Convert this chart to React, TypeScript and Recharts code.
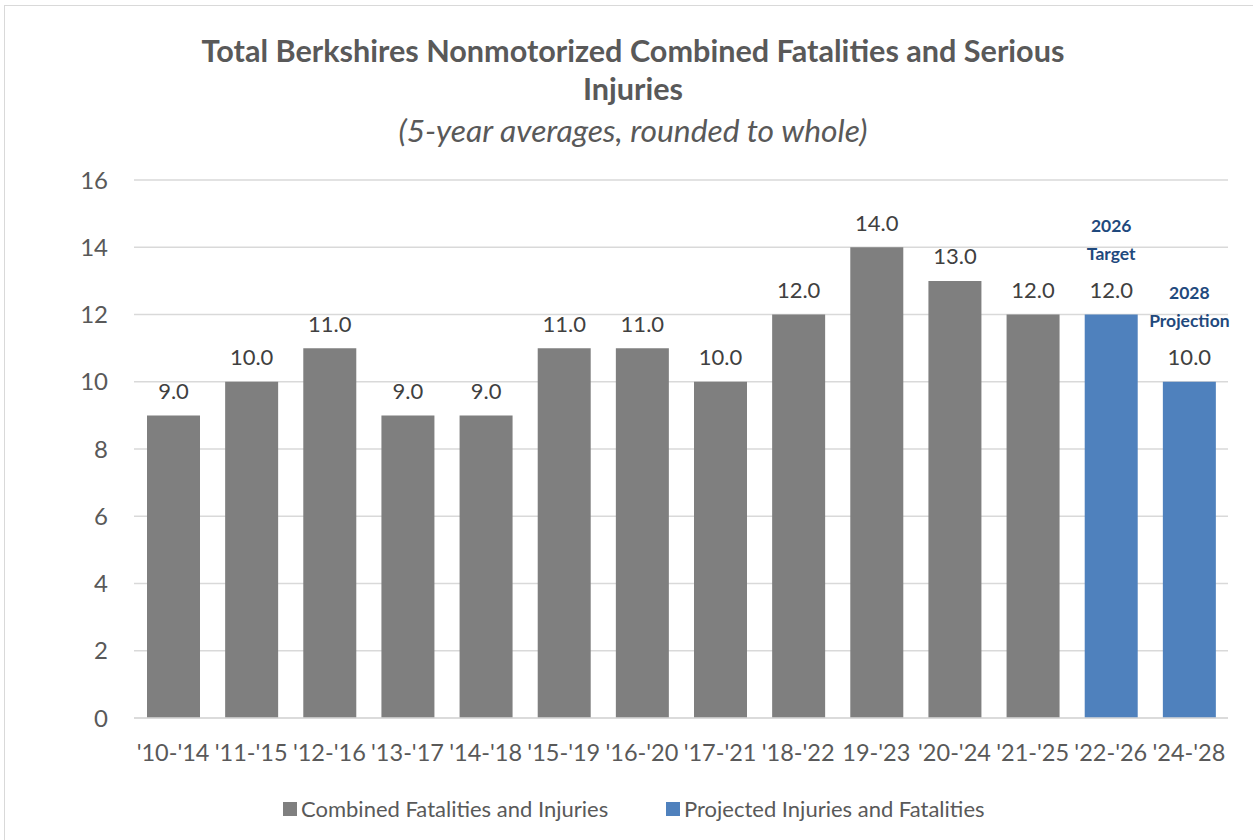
import React from "react";
import { BarChart, Bar, XAxis, YAxis, CartesianGrid, LabelList } from "recharts";

const categories = ["'10-'14", "'11-'15", "'12-'16", "'13-'17", "'14-'18", "'15-'19", "'16-'20", "'17-'21", "'18-'22", "19-'23", "'20-'24", "'21-'25", "'22-'26", "'24-'28"];
const combinedValues: (number | null)[] = [9, 10, 11, 9, 9, 11, 11, 10, 12, 14, 13, 12, null, null];
const projectedValues: (number | null)[] = [null, null, null, null, null, null, null, null, null, null, null, null, 12, 10];
const noteLine1: (string | null)[] = [null, null, null, null, null, null, null, null, null, null, null, null, "2026", "2028"];
const noteLine2: (string | null)[] = [null, null, null, null, null, null, null, null, null, null, null, null, "Target", "Projection"];
const yTicks = [0, 2, 4, 6, 8, 10, 12, 14, 16];

const data = categories.map((c, i) => ({
  name: c,
  combined: combinedValues[i],
  projected: projectedValues[i],
  note1: noteLine1[i],
  note2: noteLine2[i],
}));

const FONT = "Lato, 'Open Sans', sans-serif";
const GRAY = "#7f7f7f";
const BLUE = "#4f81bd";
const NOTE = "#1f497d";

const ValueLabel = (props: any) => {
  const { x, y, width, value } = props;
  if (value === null || value === undefined) return null;
  return (
    <text x={Number(x) + Number(width) / 2} y={Number(y) - 25} textAnchor="middle" dominantBaseline="central" fill="#404040" fontSize={22} fontFamily={FONT}>
      {Number(value).toFixed(1)}
    </text>
  );
};

const makeNote = (offset: number) => (props: any) => {
  const { x, y, width, value } = props;
  if (value === null || value === undefined || value === "") return null;
  return (
    <text x={Number(x) + Number(width) / 2} y={Number(y) - offset} textAnchor="middle" dominantBaseline="central" fill={NOTE} fontSize={17.5} fontWeight="bold" fontFamily={FONT}>
      {value}
    </text>
  );
};
const Note1 = makeNote(89);
const Note2 = makeNote(61);

export default function App() {
  return (
    <div style={{ position: "absolute", left: 0, top: 0, width: 1253, height: 840, background: "#fff", overflow: "hidden", fontFamily: FONT }}>
      <div style={{ position: "absolute", left: 4, top: 5, width: 1300, height: 900, border: "1px solid #d9d9d9", boxSizing: "border-box" }} />
      <div style={{ position: "absolute", left: 0, top: 32, width: 1266, textAlign: "center", color: "#595959", fontWeight: "bold", fontSize: 30.6, lineHeight: "38px" }}>
        Total Berkshires Nonmotorized Combined Fatalities and Serious
        <br />
        Injuries
      </div>
      <div style={{ position: "absolute", left: 0, top: 112, width: 1266, textAlign: "center", color: "#595959", fontStyle: "italic", fontSize: 31.8, lineHeight: "36px" }}>
        (5-year averages, rounded to whole)
      </div>
      <div style={{ position: "absolute", left: 0, top: 0 }}>
        <BarChart width={1253} height={840} data={data} margin={{ top: 180, right: 25, bottom: 92, left: 0 }} barSize={53}>
          <CartesianGrid vertical={false} stroke="#d9d9d9" strokeWidth={1.5} />
          <XAxis
            dataKey="name"
            interval={0}
            tickLine={false}
            axisLine={{ stroke: "#d9d9d9", strokeWidth: 1.5 }}
            tick={{ fill: "#595959", fontSize: 23.5, fontFamily: FONT }}
            tickMargin={20}
          />
          <YAxis
            width={134}
            domain={[0, 16]}
            ticks={yTicks}
            axisLine={false}
            tickLine={false}
            tick={{ fill: "#595959", fontSize: 24, fontFamily: FONT }}
            tickMargin={20}
          />
          <Bar dataKey="combined" name="Combined Fatalities and Injuries" stackId="a" fill={GRAY} isAnimationActive={false}>
            <LabelList dataKey="combined" content={ValueLabel} />
          </Bar>
          <Bar dataKey="projected" name="Projected Injuries and Fatalities" stackId="a" fill={BLUE} isAnimationActive={false}>
            <LabelList dataKey="projected" content={ValueLabel} />
            <LabelList dataKey="note1" content={Note1} />
            <LabelList dataKey="note2" content={Note2} />
          </Bar>
        </BarChart>
      </div>
      <div style={{ position: "absolute", left: 0, top: 795, width: 1253, height: 28, color: "#595959", fontSize: 22 }}>
        <div style={{ position: "absolute", left: 283, top: 7, width: 14, height: 14, background: GRAY }} />
        <div style={{ position: "absolute", left: 301, top: 0, lineHeight: "28px", whiteSpace: "nowrap" }}>Combined Fatalities and Injuries</div>
        <div style={{ position: "absolute", left: 666, top: 7, width: 14, height: 14, background: BLUE }} />
        <div style={{ position: "absolute", left: 684, top: 0, lineHeight: "28px", whiteSpace: "nowrap" }}>Projected Injuries and Fatalities</div>
      </div>
    </div>
  );
}
